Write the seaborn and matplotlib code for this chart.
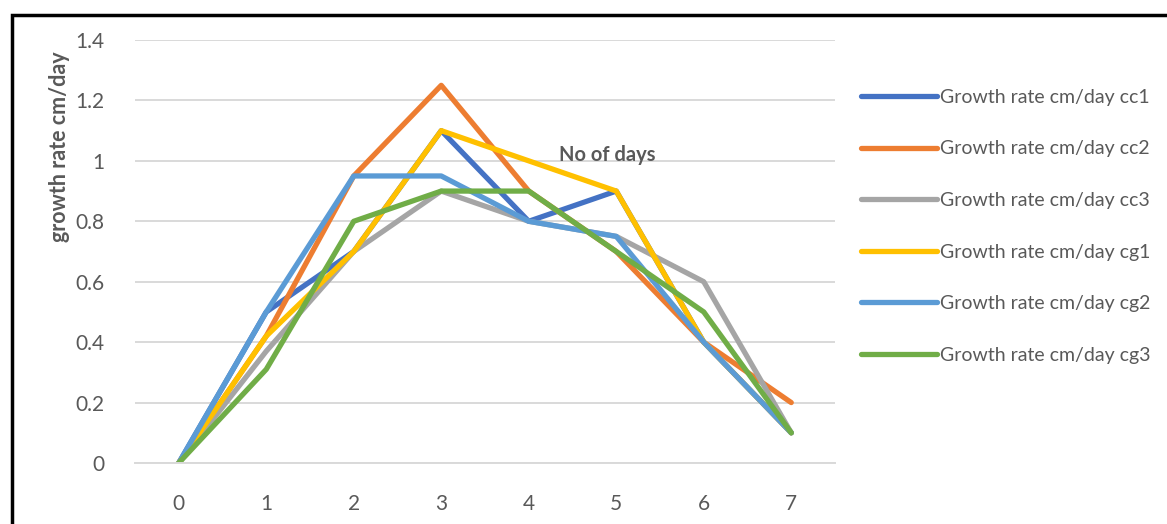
import numpy as np
import pandas as pd
import matplotlib
matplotlib.use("Agg")
import matplotlib.pyplot as plt
from matplotlib.patches import Rectangle
import seaborn as sns

days = [0, 1, 2, 3, 4, 5, 6, 7]
series_names = [
    "Growth rate cm/day cc1",
    "Growth rate cm/day cc2",
    "Growth rate cm/day cc3",
    "Growth rate cm/day cg1",
    "Growth rate cm/day cg2",
    "Growth rate cm/day cg3",
]
cc1 = [0, 0.50, 0.70, 1.10, 0.80, 0.90, 0.40, 0.10]
cc2 = [0, 0.42, 0.95, 1.25, 0.90, 0.70, 0.40, 0.20]
cc3 = [0, 0.37, 0.70, 0.90, 0.80, 0.75, 0.60, 0.10]
cg1 = [0, 0.42, 0.70, 1.10, 1.00, 0.90, 0.40, 0.10]
cg2 = [0, 0.50, 0.95, 0.95, 0.80, 0.75, 0.40, 0.10]
cg3 = [0, 0.31, 0.80, 0.90, 0.90, 0.70, 0.50, 0.10]
colors = ["#4472C4", "#ED7D31", "#A5A5A5", "#FFC000", "#5B9BD5", "#70AD47"]

values = [cc1, cc2, cc3, cg1, cg2, cg3]
df = pd.concat(
    [pd.DataFrame({"day": days, "rate": v, "series": n}) for n, v in zip(series_names, values)],
    ignore_index=True,
)

sns.set_theme(style="white")
plt.rcParams["font.family"] = ["Lato", "DejaVu Sans"]
text_col = "#595959"
grid_col = "#D9D9D9"

W, H = 1167, 524
fig = plt.figure(figsize=(W / 100, H / 100), dpi=100)
ax = fig.add_axes([135 / W, 1 - 463 / H, 700 / W, 423 / H])

sns.lineplot(data=df, x="day", y="rate", hue="series", hue_order=series_names,
             palette=colors, linewidth=3.8, ax=ax, legend=False, sort=False)

ax.set_xlim(-0.5, 7.5)
ax.set_ylim(0, 1.4)
ax.set_yticks(np.arange(0, 1.41, 0.2))
ax.set_yticklabels(["0", "0.2", "0.4", "0.6", "0.8", "1", "1.2", "1.4"])
ax.set_xticks(days)
ax.set_xticklabels([str(d) for d in days])
ax.set_xticks(np.arange(-0.5, 7.6, 1), minor=True)
ax.tick_params(axis="x", which="major", length=0, pad=22, labelsize=15, labelcolor=text_col)
ax.tick_params(axis="x", which="minor", length=6, width=1.3, color=grid_col, direction="out")
ax.tick_params(axis="y", length=0, pad=22, labelsize=15, labelcolor=text_col)
ax.grid(axis="y", color=grid_col, linewidth=1.4)
ax.set_axisbelow(True)
for side in ["left", "right", "top"]:
    ax.spines[side].set_visible(False)
ax.spines["bottom"].set_color(grid_col)
ax.spines["bottom"].set_linewidth(1.4)
ax.set_xlabel("")
ax.set_ylabel("")

# axis titles
fig.text(60 / W, 1 - 147 / H, "growth rate cm/day", rotation=90, ha="center", va="center",
         fontsize=15.5, fontweight="bold", color=text_col)
ax.text(4.9, 1.02, "No of days", ha="center", va="center",
        fontsize=14.5, fontweight="bold", color=text_col)

# legend
handles = [plt.Line2D([], [], color=c, linewidth=3.8) for c in colors]
fig.legend(handles, series_names, loc="upper left", bbox_to_anchor=(853 / W, 1 - 81 / H),
           frameon=False, fontsize=14, labelcolor=text_col, handlelength=3.9,
           handletextpad=0.2, labelspacing=1.78, borderaxespad=0)

# outer frame
fig.patches.append(Rectangle((12 / W, -0.2), 1.2, 1 - 15 / H + 0.2, transform=fig.transFigure,
                             fill=False, edgecolor="black", linewidth=2.5, clip_on=False))

fig.savefig("out.png", dpi=100)
